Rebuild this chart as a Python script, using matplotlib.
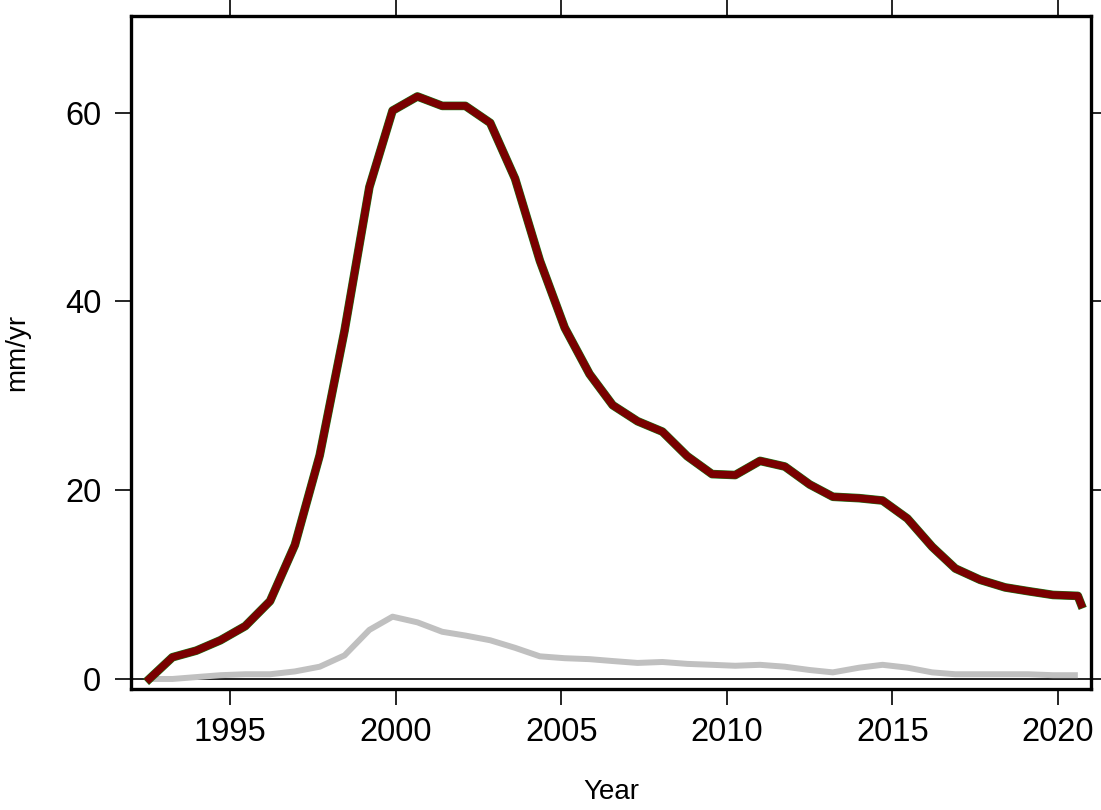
import numpy as np
import matplotlib.pyplot as plt

plt.rcParams['font.family'] = ['Liberation Sans', 'DejaVu Sans']

# valores
years = [1992.55, 1993.25, 1993.97, 1994.7, 1995.45, 1996.2, 1996.95, 1997.7,
         1998.45, 1999.2, 1999.9, 2000.65, 2001.4, 2002.1, 2002.85, 2003.6,
         2004.35, 2005.1, 2005.85, 2006.55, 2007.3, 2008.05, 2008.8, 2009.55,
         2010.25, 2011.0, 2011.75, 2012.5, 2013.2, 2014.0, 2014.7, 2015.45,
         2016.2, 2016.9, 2017.65, 2018.4, 2019.1, 2019.85, 2020.6]

rate = [0.0, 2.3, 3.0, 4.1, 5.6, 8.25, 14.2, 23.7,
        36.9, 52.1, 60.2, 61.7, 60.7, 60.7, 58.9, 53.0,
        44.3, 37.2, 32.3, 29.0, 27.3, 26.2, 23.6, 21.7,
        21.6, 23.1, 22.5, 20.6, 19.3, 19.15, 18.9, 17.0,
        14.0, 11.7, 10.5, 9.7, 9.3, 8.9, 8.8]

# ultimo tramo del rojo
year_end = 2020.7
rate_end = 7.9

error = [0.0, 0.0, 0.2, 0.4, 0.5, 0.5, 0.8, 1.3,
         2.5, 5.2, 6.6, 6.0, 5.0, 4.6, 4.1, 3.3,
         2.4, 2.2, 2.1, 1.9, 1.7, 1.8, 1.6, 1.5,
         1.4, 1.5, 1.3, 0.95, 0.7, 1.2, 1.5, 1.2,
         0.7, 0.5, 0.5, 0.5, 0.5, 0.4, 0.4]

x_red = years + [year_end]
y_red = rate + [rate_end]

fig = plt.figure(figsize=(11.01, 8.10), dpi=100)
ax = fig.add_axes([0.119, 0.1494, 0.872, 0.8306])

ax.axhline(0, color="black", linewidth=1.2, zorder=1)
ax.plot(years, error, color="#c0c0c0", linewidth=4.3, solid_capstyle="butt", zorder=2)
ax.plot(x_red, y_red, color="#1a7a1a", linewidth=6.2, zorder=3)
ax.plot(x_red, y_red, color="#7a0000", linewidth=5.4, zorder=4)

ax.set_xlim(1992, 2021)
ax.set_ylim(-1.06, 70.2)
ax.set_xticks([1995, 2000, 2005, 2010, 2015, 2020])
ax.set_yticks([0, 20, 40, 60])

ax.tick_params(direction="out", length=11.5, width=1.2, labelsize=23.5,
               top=True, right=True, pad=10, colors="black")
ax.tick_params(axis="x", pad=9)

for s in ax.spines.values():
    s.set_linewidth(2.4)

ax.set_xlabel("Year", fontsize=20, labelpad=22)
ax.set_ylabel("mm/yr", fontsize=20, labelpad=25)

plt.savefig("out.png", dpi=100)
